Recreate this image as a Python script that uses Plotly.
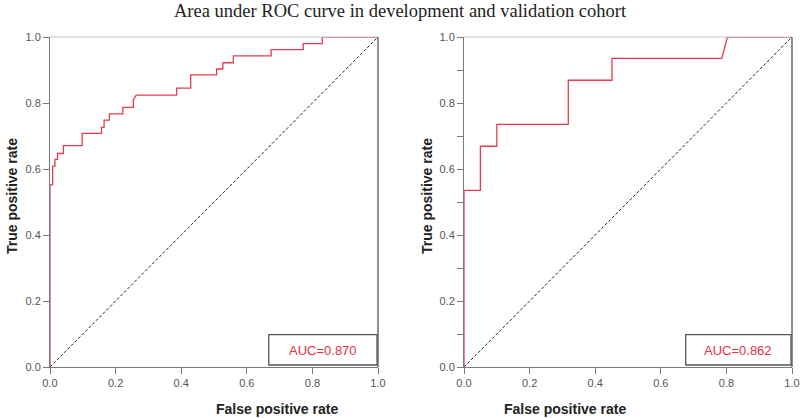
import plotly.graph_objects as go

# Development cohort ROC vertices
dev_fpr = [0, 0, 0.008, 0.008, 0.015, 0.015, 0.023, 0.023, 0.041, 0.041, 0.098, 0.098,
           0.157, 0.157, 0.165, 0.165, 0.181, 0.181, 0.222, 0.222, 0.254, 0.254, 0.263,
           0.386, 0.386, 0.429, 0.429, 0.508, 0.508, 0.527, 0.527, 0.559, 0.559, 0.674,
           0.674, 0.772, 0.772, 0.830, 0.830, 1.0]
dev_tpr = [0, 0.552, 0.552, 0.609, 0.609, 0.629, 0.629, 0.647, 0.647, 0.671, 0.671, 0.708,
           0.708, 0.726, 0.726, 0.748, 0.748, 0.767, 0.767, 0.787, 0.787, 0.810, 0.824,
           0.824, 0.845, 0.845, 0.885, 0.885, 0.903, 0.903, 0.922, 0.922, 0.943, 0.943,
           0.962, 0.962, 0.980, 0.980, 1.0, 1.0]

# Validation cohort ROC vertices
val_fpr = [0, 0, 0.05, 0.05, 0.10, 0.10, 0.318, 0.318, 0.451, 0.451, 0.786, 0.803, 1.0]
val_tpr = [0, 0.535, 0.535, 0.669, 0.669, 0.735, 0.735, 0.869, 0.869, 0.935, 0.935, 1.0, 1.0]

auc_labels = ["AUC=0.870", "AUC=0.862"]
tick_vals = [0, 0.2, 0.4, 0.6, 0.8, 1.0]
tick_text = ["0.0", "0.2", "0.4", "0.6", "0.8", "1.0"]

title_text = "Area under ROC curve in development and validation cohort"
x_title = "False positive rate"
y_title = "True positive rate"

RED = "#e63c50"
AXC = "#7a7a7a"
FONT = "Arial, Liberation Sans, sans-serif"
W, H = 800, 418

fig = go.Figure()

for i, (fx, fy) in enumerate([(dev_fpr, dev_tpr), (val_fpr, val_tpr)]):
    xa = "x" if i == 0 else "x2"
    ya = "y" if i == 0 else "y2"
    fig.add_trace(go.Scatter(x=[0, 1], y=[0, 1], mode="lines", xaxis=xa, yaxis=ya,
                             line=dict(color="#222222", width=1, dash="3px,2px"),
                             showlegend=False, hoverinfo="skip"))
    fig.add_trace(go.Scatter(x=fx, y=fy, mode="lines", xaxis=xa, yaxis=ya,
                             line=dict(color=RED, width=1.3),
                             showlegend=False, cliponaxis=False))

ydom = [1 - 367 / H, 1 - 37 / H]
axis_common = dict(range=[0, 1], showgrid=False, zeroline=False, showline=True,
                   linecolor=AXC, linewidth=1, ticks="outside", ticklen=6,
                   tickcolor=AXC, tickvals=tick_vals, ticktext=tick_text, automargin=False,
                   tickfont=dict(family=FONT, size=11, color="#555555"))

fig.update_layout(
    width=W, height=H,
    margin=dict(l=0, r=0, t=0, b=0, autoexpand=False),
    plot_bgcolor="white", paper_bgcolor="white",
    xaxis=dict(domain=[50 / W, 378 / W], anchor="y", **axis_common),
    yaxis=dict(domain=ydom, anchor="x", **axis_common),
    xaxis2=dict(domain=[464 / W, 792 / W], anchor="y2", **axis_common),
    yaxis2=dict(domain=ydom, anchor="x2",
                minor=dict(ticks="outside", ticklen=6, tickcolor=AXC, dtick=0.1, tick0=0),
                **axis_common),
)

# frame lines (top lighter, right darker)
for xr, yr in [("x domain", "y domain"), ("x2 domain", "y2 domain")]:
    fig.add_shape(type="line", xref=xr, yref=yr, x0=0, x1=1, y0=1, y1=1,
                  line=dict(color="#c4c4c4", width=1))
    fig.add_shape(type="line", xref=xr, yref=yr, x0=1, x1=1, y0=0, y1=1,
                  line=dict(color="#6a6a6a", width=1.5))

# AUC boxes
boxes = [("x", "y", 0.667, 0.997), ("x2", "y2", 0.676, 0.997)]
for (xr, yr, bx0, bx1), lab in zip(boxes, auc_labels):
    fig.add_shape(type="rect", xref=xr, yref=yr, x0=bx0, x1=bx1, y0=0.006, y1=0.098,
                  line=dict(color="#555555", width=1.3), fillcolor="white", layer="above")
    fig.add_annotation(xref=xr, yref=yr, x=(bx0 + bx1) / 2, y=0.05, text=lab,
                       showarrow=False, font=dict(family=FONT, size=13, color="#e8303f"))

# Title
fig.add_annotation(xref="paper", yref="paper", x=0.5, y=1 - 11 / H, text=title_text,
                   showarrow=False, yanchor="middle",
                   font=dict(family="Liberation Serif, Times New Roman, serif", size=18.5, color="#222222"))

# Axis titles
for xc in [(50 + 378) / 2 / W, (464 + 792) / 2 / W]:
    fig.add_annotation(xref="paper", yref="paper", x=xc, y=1 - 409 / H, text="<b>" + x_title + "</b>",
                       showarrow=False, yanchor="middle",
                       font=dict(family=FONT, size=14, color="#222222"))
for xc in [12 / W, 427 / W]:
    fig.add_annotation(xref="paper", yref="paper", x=xc, y=1 - 196 / H, text="<b>" + y_title + "</b>",
                       showarrow=False, textangle=-90, xanchor="center", yanchor="middle",
                       font=dict(family=FONT, size=14, color="#222222"))

fig.write_html("out.html", config={"displayModeBar": False},
               post_script="document.body.style.margin='0';document.body.style.overflow='hidden';")
